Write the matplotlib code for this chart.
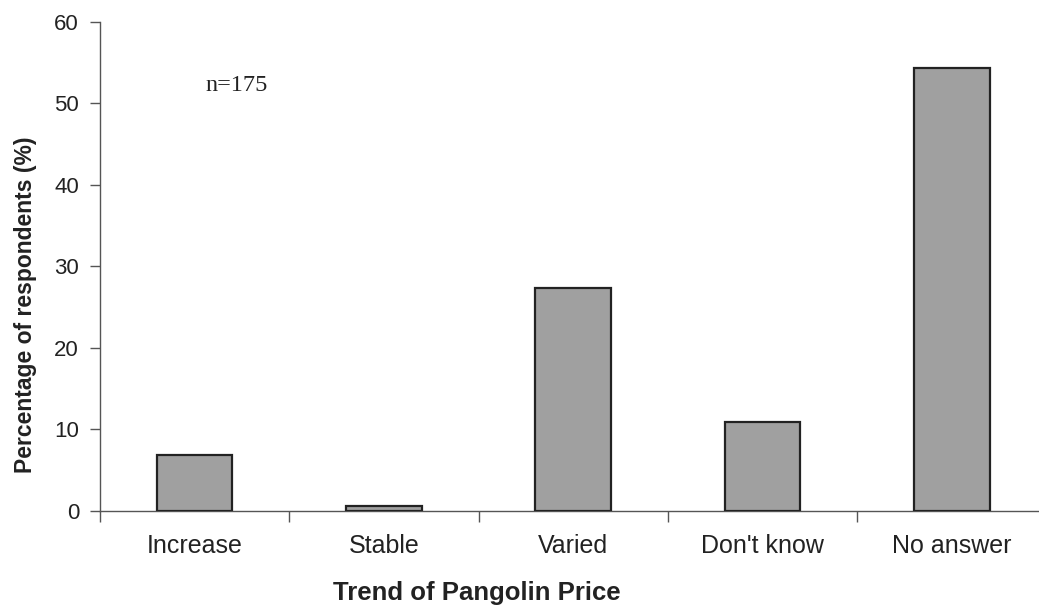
import matplotlib.pyplot as plt
import numpy as np

categories = ['Increase', 'Stable', 'Varied', "Don't know", 'No answer']
percentages = [6.9, 0.6, 27.4, 10.9, 54.3]
y_ticks = [0, 10, 20, 30, 40, 50, 60]


def main():
    fig = plt.figure(figsize=(10.39, 6.08), dpi=100)
    ax = fig.add_axes([0.0962, 0.16, 0.911, 0.8038])

    x = np.arange(len(categories))
    ax.bar(x, percentages, width=0.40, color='#a0a0a0',
           edgecolor='#222222', linewidth=1.6, zorder=3)

    ax.set_xlim(-0.5, len(categories) - 0.5)
    ax.set_ylim(0, 60)

    # spines: only left and bottom
    for side in ['top', 'right']:
        ax.spines[side].set_visible(False)
    for side in ['left', 'bottom']:
        ax.spines[side].set_color('#555555')
        ax.spines[side].set_linewidth(1.0)

    ax.set_yticks(y_ticks)
    ax.tick_params(axis='y', direction='out', length=7, width=1.0,
                   color='#555555', labelsize=16, pad=8)

    # category labels without ticks, tick marks between categories
    ax.set_xticks(x)
    ax.set_xticklabels(categories)
    ax.tick_params(axis='x', which='major', length=0, labelsize=18, pad=17)
    ax.set_xticks(np.arange(len(categories) + 1) - 0.5, minor=True)
    ax.tick_params(axis='x', which='minor', direction='out', length=8,
                   width=1.0, color='#555555')

    for lbl in ax.get_xticklabels() + ax.get_yticklabels():
        lbl.set_family('Liberation Sans')
        lbl.set_color('#222222')

    ax.set_xlabel('Trend of Pangolin Price', fontsize=18.5, fontweight='bold',
                  family='Liberation Sans', color='#222222')
    ax.xaxis.set_label_coords(0.398, -0.143)
    ax.set_ylabel('Percentage of respondents (%)', fontsize=16.5,
                  fontweight='bold', family='Liberation Sans',
                  color='#222222')
    ax.yaxis.set_label_coords(-0.066, 0.421)

    ax.text(0.055, 52.2, 'n=175', fontsize=17.5, family='Liberation Serif',
            color='#222222', va='center', ha='left')

    fig.savefig('out.png', dpi=100)


if __name__ == "__main__":
    main()
